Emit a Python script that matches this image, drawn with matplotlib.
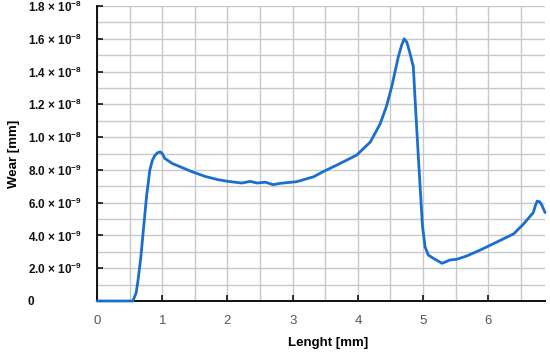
import matplotlib
matplotlib.use("Agg")
import matplotlib.pyplot as plt
from matplotlib.ticker import MultipleLocator, FixedLocator

# values (length in mm, wear in units of 1e-9 mm)
length = [0.0, 0.55, 0.60, 0.63, 0.67, 0.71, 0.76, 0.81, 0.85, 0.89, 0.93, 0.97,
          1.00, 1.04, 1.15, 1.30, 1.45, 1.66, 1.86, 2.01, 2.22, 2.35, 2.45, 2.58,
          2.70, 2.81, 3.06, 3.32, 3.47, 3.68, 3.83, 3.98, 4.19, 4.34, 4.44, 4.52,
          4.62, 4.67, 4.71, 4.75, 4.80, 4.85, 4.88, 4.93, 4.99, 5.03, 5.08, 5.16,
          5.29, 5.41, 5.52, 5.67, 5.87, 6.08, 6.39, 6.54, 6.69, 6.72, 6.75, 6.79,
          6.82, 6.87]
wear = [0.0, 0.0, 0.5, 1.3, 2.6, 4.3, 6.4, 8.0, 8.6, 8.9, 9.05, 9.1,
        9.0, 8.7, 8.4, 8.15, 7.9, 7.6, 7.4, 7.3, 7.2, 7.3, 7.2, 7.25,
        7.1, 7.18, 7.28, 7.58, 7.9, 8.3, 8.6, 8.9, 9.7, 10.8, 11.9, 13.1,
        14.9, 15.6, 16.0, 15.8, 15.1, 14.3, 12.1, 8.6, 4.6, 3.3, 2.8, 2.6,
        2.3, 2.5, 2.55, 2.75, 3.1, 3.5, 4.1, 4.7, 5.4, 5.8, 6.1, 6.05,
        5.85, 5.4]
y_ticks = [0, 2e-9, 4e-9, 6e-9, 8e-9, 1e-8, 1.2e-8, 1.4e-8, 1.6e-8, 1.8e-8]
y_labels = ["0", r"2.0 × 10$^{-9}$", r"4.0 × 10$^{-9}$", r"6.0 × 10$^{-9}$",
            r"8.0 × 10$^{-9}$", r"1.0 × 10$^{-8}$", r"1.2 × 10$^{-8}$",
            r"1.4 × 10$^{-8}$", r"1.6 × 10$^{-8}$", r"1.8 × 10$^{-8}$"]

plt.rcParams["font.family"] = ["Liberation Sans", "DejaVu Sans"]
plt.rcParams["mathtext.fontset"] = "custom"
plt.rcParams["mathtext.rm"] = "Liberation Sans:bold"
plt.rcParams["mathtext.it"] = "Liberation Sans:bold"
plt.rcParams["mathtext.bf"] = "Liberation Sans:bold"

fig = plt.figure(figsize=(5.5, 3.56), dpi=100)
ax = fig.add_axes([0.1764, 0.1545, 0.8146, 0.8285])

ax.plot(length, [w * 1e-9 for w in wear], color="#1a6fcc", lw=2.0,
        solid_joinstyle="round", solid_capstyle="round", zorder=3, clip_on=False)

ax.set_xlim(0, 6.87)
ax.set_ylim(0, 1.8e-8)
ax.xaxis.set_major_locator(MultipleLocator(1))
ax.xaxis.set_minor_locator(MultipleLocator(0.5))
ax.yaxis.set_major_locator(FixedLocator(y_ticks))
ax.yaxis.set_minor_locator(MultipleLocator(1e-9))
ax.set_yticklabels(y_labels)

ax.grid(which="both", color="#c8c8c8", lw=1.0, zorder=0)
ax.set_axisbelow(True)
for s in ["top", "right"]:
    ax.spines[s].set_visible(False)
for s in ["left", "bottom"]:
    ax.spines[s].set_linewidth(1.4)
    ax.spines[s].set_color("#111111")

ax.tick_params(which="major", direction="in", length=4, width=1.2, color="#111111")
ax.tick_params(which="minor", length=0)
ax.tick_params(axis="x", labelsize=9.5, labelcolor="#555555", pad=10)
# y labels are left aligned in the reference
ax.tick_params(axis="y", labelsize=8.5, labelcolor="#111111", pad=50)
for t in ax.get_yticklabels():
    t.set_fontweight("bold")
    t.set_horizontalalignment("left")

ax.set_xlabel("Lenght [mm]", fontsize=9.5, fontweight="bold")
ax.set_ylabel("Wear [mm]", fontsize=9.5, fontweight="bold")
ax.xaxis.set_label_coords(0.515, -0.122)
ax.yaxis.set_label_coords(-0.172, 0.5)

fig.savefig("out.png", dpi=100)
